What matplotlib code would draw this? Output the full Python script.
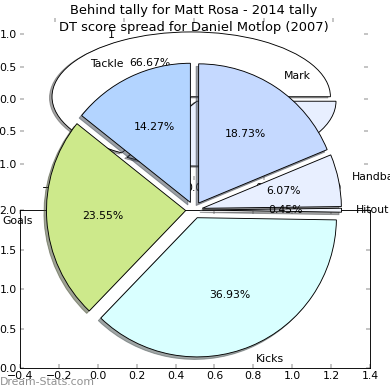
import matplotlib
matplotlib.use('Agg')
import matplotlib.pyplot as plt

# first chart: behind tally
behind_labels = ['1', '0']
behind_values = [2, 1]
behind_colors = ['#ffffff', '#e8efff']

# second chart: DT score spread
dt_labels = ['Tackle', 'Goals', 'Kicks', 'Hitout', 'Handball', 'Mark']
dt_pct = [14.27, 23.55, 36.93, 0.45, 6.07, 18.73]
dt_colors = ['#b3d4ff', '#cde98b', '#d9ffff', '#f4f7ff', '#e8efff', '#c5d9ff']

pie_ticks = [-1.0, -0.5, 0.0, 0.5, 1.0]
edge = dict(edgecolor='black', linewidth=1)

plt.rcParams['font.size'] = 12
fig = plt.figure(figsize=(6, 6), dpi=65)

# top axes, stretched pie with ticks left over
ax1 = fig.add_axes([0.0513, 0.5385, 0.8923, 0.4154])
ax1.pie(behind_values, labels=behind_labels, colors=behind_colors,
        explode=[0.04] * len(behind_values), autopct='%1.2f%%',
        shadow=True, wedgeprops=edge)
ax1.set_aspect('auto')
ax1.set_xlim(-1.25, 1.25)
ax1.set_ylim(-1.25, 1.25)
ax1.set_xticks(pie_ticks)
ax1.set_yticks(pie_ticks)
ax1.set_frame_on(False)
ax1.tick_params(direction='in', length=4, width=0.5, top=True, right=True,
                labelsize=12)
ax1.set_title('Behind tally for Matt Rosa - 2014 tally', fontsize=14.4, pad=4)

# empty framed axes underneath
ax2 = fig.add_axes([0.0513, 0.0564, 0.8974, 0.4051])
ax2.set_xlim(-0.4, 1.4)
ax2.set_ylim(0, 2)
ax2.set_xticks([-0.4, -0.2, 0.0, 0.2, 0.4, 0.6, 0.8, 1.0, 1.2, 1.4])
ax2.set_yticks([0.0, 0.5, 1.0, 1.5, 2.0])
ax2.tick_params(direction='in', length=4, width=0.5, top=True, right=True,
                labelsize=12)
for s in ax2.spines.values():
    s.set_linewidth(1)

# big pie on top of everything
ax3 = fig.add_axes([0.0513, 0.0154, 0.8923, 0.8923])
ax3.pie(dt_pct, labels=dt_labels, colors=dt_colors,
        explode=[0.06] * len(dt_pct), autopct='%1.2f%%', startangle=90,
        shadow=True, wedgeprops=edge)
ax3.set_aspect('equal')
ax3.set_xlim(-1.25, 1.25)
ax3.set_ylim(-1.25, 1.25)
ax3.set_frame_on(False)
ax3.set_xticks([])
ax3.set_yticks([])
ax3.set_title('DT score spread for Daniel Motlop (2007)', fontsize=14.4)

fig.text(0.0, 0.021, 'Dream-Stats.com', color='#909090', fontsize=12,
         ha='left', va='center')

fig.savefig('out.png', dpi=65)
